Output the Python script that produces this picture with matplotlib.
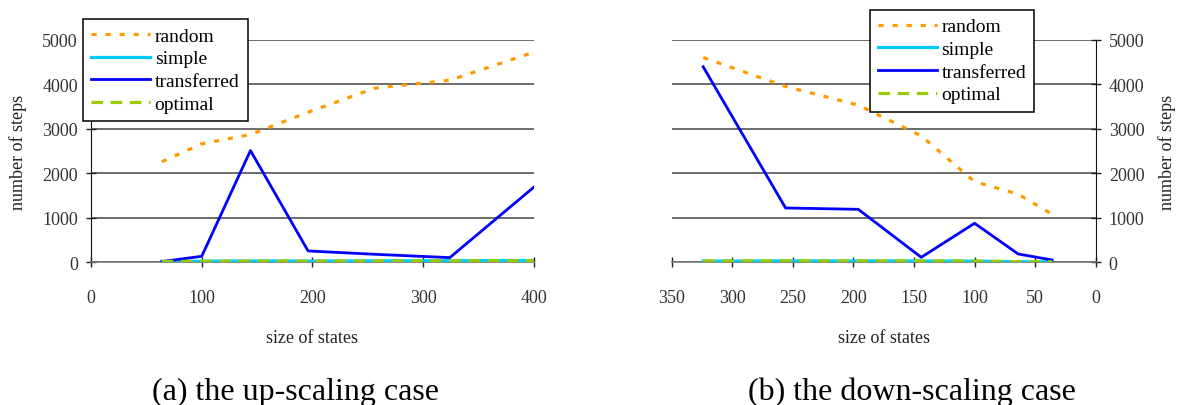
import numpy as np
import matplotlib
matplotlib.use("Agg")
import matplotlib.pyplot as plt

# --- data ---
x_up = [64, 100, 144, 196, 256, 324, 400]
random_up = [2260, 2660, 2870, 3370, 3910, 4090, 4720]
simple_up = [20, 24, 28, 27, 32, 35, 40]
transferred_up = [15, 135, 2510, 255, 180, 105, 1690]
optimal_up = [18, 22, 26, 27, 30, 34, 38]

x_down = [324, 256, 196, 144, 100, 64, 36]
random_down = [4600, 3950, 3530, 2840, 1810, 1530, 1080]
simple_down = [25, 30, 30, 28, 25, 12, 10]
transferred_down = [4390, 1220, 1190, 112, 876, 187, 52]
optimal_down = [30, 32, 30, 30, 28, 15, 12]

y_ticks = [0, 1000, 2000, 3000, 4000, 5000]
x_ticks_up = [0, 100, 200, 300, 400]
x_ticks_down = [350, 300, 250, 200, 150, 100, 50, 0]

captions = ["(a) the up-scaling case", "(b) the down-scaling case"]

plt.rcParams['font.family'] = ['Liberation Serif', 'DejaVu Serif']

fig = plt.figure(figsize=(11.77, 4.06), dpi=100)
ax1 = fig.add_axes([0.0773, 0.3515, 0.3764, 0.5483])
ax2 = fig.add_axes([0.5707, 0.3515, 0.3602, 0.5483])


def draw_panel(ax, x, rnd, smp, trf, opt):
    ax.plot(x, rnd, color='#ff9a00', lw=2.3, dashes=(1.6, 2.8), label='random', zorder=3)
    ax.plot(x, smp, color='#00ccff', lw=2.3, label='simple', zorder=3)
    ax.plot(x, trf, color='#0000ff', lw=2.0, label='transferred', zorder=4)
    ax.plot(x, opt, color='#99cc00', lw=2.3, dashes=(3.6, 2.4), label='optimal', zorder=5)
    ax.set_ylim(0, 5000)
    ax.set_yticks(y_ticks)
    ax.yaxis.grid(True, color='#444444', lw=1.1)
    ax.set_axisbelow(True)
    ax.tick_params(direction='inout', length=7, width=1, color='#222222',
                   labelsize=13, labelcolor='#333333')
    ax.tick_params(axis='x', pad=16)
    ax.tick_params(axis='y', pad=6)
    ax.spines['top'].set_visible(False)
    ax.spines['bottom'].set_color('#777777')
    ax.spines['bottom'].set_linewidth(1.2)
    ax.set_xlabel('size of states', fontsize=13, color='#222222', labelpad=16)


draw_panel(ax1, x_up, random_up, simple_up, transferred_up, optimal_up)
ax1.set_xlim(0, 400)
ax1.set_xticks(x_ticks_up)
ax1.spines['right'].set_visible(False)
ax1.spines['left'].set_color('#111111')
ax1.set_ylabel('number of steps', fontsize=13, color='#222222', labelpad=11)

draw_panel(ax2, x_down, random_down, simple_down, transferred_down, optimal_down)
ax2.set_xlim(350, 0)
ax2.set_xticks(x_ticks_down)
ax2.spines['left'].set_visible(False)
ax2.spines['right'].set_color('#111111')
ax2.yaxis.tick_right()
ax2.yaxis.set_label_position('right')
ax2.set_ylabel('number of steps', fontsize=13, color='#222222', labelpad=10)

leg_kw = dict(loc='upper left', bbox_transform=fig.transFigure, fontsize=14,
              frameon=True, fancybox=False, framealpha=1, edgecolor='black',
              borderpad=0.42, labelspacing=0.26, handlelength=3.0,
              handletextpad=0.25, borderaxespad=0)
leg1 = ax1.legend(bbox_to_anchor=(0.0708, 0.9507), **leg_kw)
leg2 = ax2.legend(bbox_to_anchor=(0.7392, 0.9736), **leg_kw)
for leg in (leg1, leg2):
    leg.get_frame().set_linewidth(1.1)
    leg.set_zorder(10)

fig.text(296 / 1177, 0.015, captions[0], ha='center', va='baseline', fontsize=23)
fig.text(912 / 1177, 0.015, captions[1], ha='center', va='baseline', fontsize=23)

fig.savefig('out.png', dpi=100)
